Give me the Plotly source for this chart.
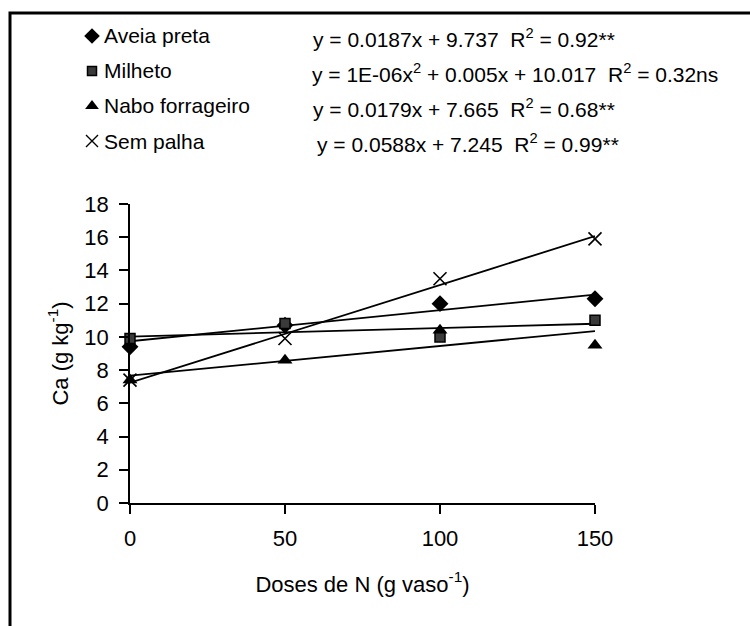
import numpy as np
import plotly.graph_objects as go

# ---------------- data ----------------
doses = [0, 50, 100, 150]
series_names = ["Aveia preta", "Milheto", "Nabo forrageiro", "Sem palha"]
aveia = [9.4, 10.7, 12.0, 12.3]
milheto = [9.9, 10.8, 10.0, 11.0]
nabo = [7.4, 8.6, 10.4, 9.5]
sem_palha = [7.4, 9.9, 13.5, 15.9]

# regression coefficients (highest power first), as printed on the chart
coef_aveia = [0.0187, 9.737]
coef_milheto = [1e-06, 0.005, 10.017]
coef_nabo = [0.0179, 7.665]
coef_sem = [0.0588, 7.245]

equations = [
    "y = 0.0187x + 9.737 \u00a0R<sup>2</sup> = 0.92**",
    "y = 1E-06x<sup>2</sup> + 0.005x + 10.017 \u00a0R<sup>2</sup> = 0.32ns",
    "y = 0.0179x + 7.665 \u00a0R<sup>2</sup> = 0.68**",
    "y = 0.0588x + 7.245 \u00a0R<sup>2</sup> = 0.99**",
]

x_ticks = [0, 50, 100, 150]
y_ticks = list(range(0, 19, 2))

# ---------------- layout constants ----------------
W, H = 750, 626
PL, PR, PT, PB = 130, 595, 204, 503   # plot area in pixels
FONT = "Liberation Sans, Arial, sans-serif"

styles = [
    dict(symbol="diamond", size=13, color="black", line=dict(width=0)),
    dict(symbol="square", size=10, color="#3a3a3a", line=dict(width=1.5, color="black")),
    dict(symbol="triangle-up", size=13, color="black", line=dict(width=0)),
    dict(symbol="x-thin", size=13, color="black", line=dict(width=1.6, color="black")),
]
legend_styles = [
    dict(symbol="diamond", size=12, color="black", line=dict(width=0)),
    dict(symbol="square", size=9, color="#3a3a3a", line=dict(width=1.5, color="black")),
    dict(symbol="triangle-up", size=12, color="black", line=dict(width=0)),
    dict(symbol="x-thin", size=12, color="black", line=dict(width=1.4, color="black")),
]

fig = go.Figure()

all_vals = [aveia, milheto, nabo, sem_palha]
all_coefs = [coef_aveia, coef_milheto, coef_nabo, coef_sem]

xfit = np.linspace(min(doses), max(doses), 151)
for coefs in all_coefs:
    fig.add_trace(go.Scatter(
        x=xfit, y=np.polyval(coefs, xfit), mode="lines",
        line=dict(color="black", width=1.8), showlegend=False, hoverinfo="skip"))

for vals, st, name in zip(all_vals, styles, series_names):
    fig.add_trace(go.Scatter(
        x=doses, y=vals, mode="markers", marker=st, name=name,
        showlegend=False, cliponaxis=False))

# custom legend (symbols on an invisible full-figure axis pair)
row_y = [36, 71, 106, 141]
for yy, st in zip(row_y, legend_styles):
    fig.add_trace(go.Scatter(
        x=[92], y=[yy], mode="markers", marker=st, xaxis="x2", yaxis="y2",
        showlegend=False, hoverinfo="skip", cliponaxis=False))

annotations = []
eq_x = [311, 310, 311, 315]
for i, (yy, name, eq) in enumerate(zip(row_y, series_names, equations)):
    annotations.append(dict(
        x=102 / W, y=1 - yy / H, xref="paper", yref="paper", text=name,
        showarrow=False, xanchor="left", yanchor="middle",
        font=dict(family=FONT, size=21, color="black")))
    annotations.append(dict(
        x=eq_x[i] / W, y=1 - (yy + 2) / H, xref="paper", yref="paper", text=eq,
        showarrow=False, xanchor="left", yanchor="middle",
        font=dict(family=FONT, size=21, color="black")))

fig.update_layout(
    width=W, height=H,
    margin=dict(l=0, r=0, t=0, b=0),
    paper_bgcolor="white", plot_bgcolor="rgba(0,0,0,0)",
    font=dict(family=FONT, size=22, color="black"),
    xaxis=dict(
        domain=[PL / W, PR / W], range=[0, 150], tickvals=x_ticks,
        ticks="outside", ticklen=9, tickwidth=1.5, tickcolor="black",
        ticklabelstandoff=6,
        showline=True, linecolor="black", linewidth=1.8,
        showgrid=False, zeroline=False,
        tickfont=dict(family=FONT, size=22, color="black"),
        title=dict(text="Doses de N (g vaso<sup>-1</sup>)", standoff=26,
                   font=dict(family=FONT, size=22, color="black")),
        anchor="y", automargin=False),
    yaxis=dict(
        domain=[1 - PB / H, 1 - PT / H], range=[0, 18], tickvals=y_ticks,
        ticks="outside", ticklen=9, tickwidth=1.5, tickcolor="black",
        ticklabelstandoff=6,
        showline=True, linecolor="black", linewidth=1.8,
        showgrid=False, zeroline=False,
        tickfont=dict(family=FONT, size=22, color="black"),
        title=dict(text="Ca (g kg<sup>-1</sup>)", standoff=10,
                   font=dict(family=FONT, size=22, color="black")),
        anchor="x", automargin=False),
    xaxis2=dict(domain=[0, 1], range=[0, W], visible=False, anchor="y2",
                fixedrange=True),
    yaxis2=dict(domain=[0, 1], range=[H, 0], visible=False, anchor="x2",
                fixedrange=True),
    annotations=annotations,
    shapes=[dict(type="rect", xref="paper", yref="paper",
                 x0=10 / W, y0=1 - 13 / H, x1=1.05, y1=-0.05,
                 line=dict(color="black", width=3), fillcolor="rgba(0,0,0,0)")],
    showlegend=False,
)

fig.write_html("out.html")
